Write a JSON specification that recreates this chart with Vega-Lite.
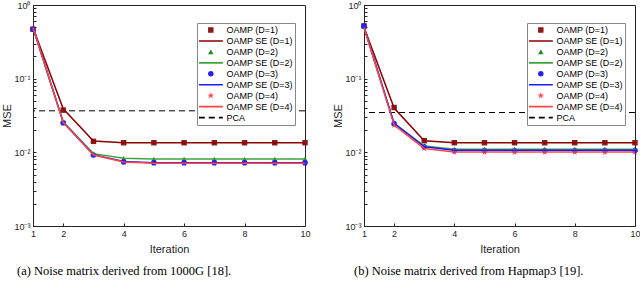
{
  "$schema": "https://vega.github.io/schema/vega-lite/v6.json",
  "padding": {"left": 1, "top": 0, "right": 0, "bottom": 0},
  "spacing": 21,
  "datasets": {
    "a_pca": [{"s": "PCA", "mse": 0.0366}],
    "b_pca": [{"s": "PCA", "mse": 0.0347}],
    "a_pt": [
      {"it": 1, "s": "OAMP (D=1)", "mse": 0.47}, {"it": 2, "s": "OAMP (D=1)", "mse": 0.0374}, {"it": 3, "s": "OAMP (D=1)", "mse": 0.0141}, {"it": 4, "s": "OAMP (D=1)", "mse": 0.0135}, {"it": 5, "s": "OAMP (D=1)", "mse": 0.0135}, {"it": 6, "s": "OAMP (D=1)", "mse": 0.0135}, {"it": 7, "s": "OAMP (D=1)", "mse": 0.0135}, {"it": 8, "s": "OAMP (D=1)", "mse": 0.0135}, {"it": 9, "s": "OAMP (D=1)", "mse": 0.0135}, {"it": 10, "s": "OAMP (D=1)", "mse": 0.0135},
      {"it": 1, "s": "OAMP (D=2)", "mse": 0.47}, {"it": 2, "s": "OAMP (D=2)", "mse": 0.0252}, {"it": 3, "s": "OAMP (D=2)", "mse": 0.0095}, {"it": 4, "s": "OAMP (D=2)", "mse": 0.0083}, {"it": 5, "s": "OAMP (D=2)", "mse": 0.0081}, {"it": 6, "s": "OAMP (D=2)", "mse": 0.0081}, {"it": 7, "s": "OAMP (D=2)", "mse": 0.0081}, {"it": 8, "s": "OAMP (D=2)", "mse": 0.0081}, {"it": 9, "s": "OAMP (D=2)", "mse": 0.0081}, {"it": 10, "s": "OAMP (D=2)", "mse": 0.0081},
      {"it": 1, "s": "OAMP (D=4)", "mse": 0.47}, {"it": 2, "s": "OAMP (D=4)", "mse": 0.0252}, {"it": 3, "s": "OAMP (D=4)", "mse": 0.0092}, {"it": 4, "s": "OAMP (D=4)", "mse": 0.0074}, {"it": 5, "s": "OAMP (D=4)", "mse": 0.0071}, {"it": 6, "s": "OAMP (D=4)", "mse": 0.0071}, {"it": 7, "s": "OAMP (D=4)", "mse": 0.0071}, {"it": 8, "s": "OAMP (D=4)", "mse": 0.0071}, {"it": 9, "s": "OAMP (D=4)", "mse": 0.0071}, {"it": 10, "s": "OAMP (D=4)", "mse": 0.0071},
      {"it": 1, "s": "OAMP (D=3)", "mse": 0.47}, {"it": 2, "s": "OAMP (D=3)", "mse": 0.0252}, {"it": 3, "s": "OAMP (D=3)", "mse": 0.0092}, {"it": 4, "s": "OAMP (D=3)", "mse": 0.0074}, {"it": 5, "s": "OAMP (D=3)", "mse": 0.0072}, {"it": 6, "s": "OAMP (D=3)", "mse": 0.0072}, {"it": 7, "s": "OAMP (D=3)", "mse": 0.0072}, {"it": 8, "s": "OAMP (D=3)", "mse": 0.0072}, {"it": 9, "s": "OAMP (D=3)", "mse": 0.0072}, {"it": 10, "s": "OAMP (D=3)", "mse": 0.0072}
    ],
    "a_se": [
      {"it": 1, "s": "OAMP SE (D=1)", "mse": 0.49}, {"it": 2, "s": "OAMP SE (D=1)", "mse": 0.039}, {"it": 3, "s": "OAMP SE (D=1)", "mse": 0.0142}, {"it": 4, "s": "OAMP SE (D=1)", "mse": 0.0135}, {"it": 5, "s": "OAMP SE (D=1)", "mse": 0.0135}, {"it": 6, "s": "OAMP SE (D=1)", "mse": 0.0135}, {"it": 7, "s": "OAMP SE (D=1)", "mse": 0.0135}, {"it": 8, "s": "OAMP SE (D=1)", "mse": 0.0135}, {"it": 9, "s": "OAMP SE (D=1)", "mse": 0.0135}, {"it": 10, "s": "OAMP SE (D=1)", "mse": 0.0135},
      {"it": 1, "s": "OAMP SE (D=2)", "mse": 0.49}, {"it": 2, "s": "OAMP SE (D=2)", "mse": 0.026}, {"it": 3, "s": "OAMP SE (D=2)", "mse": 0.0096}, {"it": 4, "s": "OAMP SE (D=2)", "mse": 0.0083}, {"it": 5, "s": "OAMP SE (D=2)", "mse": 0.0081}, {"it": 6, "s": "OAMP SE (D=2)", "mse": 0.0081}, {"it": 7, "s": "OAMP SE (D=2)", "mse": 0.0081}, {"it": 8, "s": "OAMP SE (D=2)", "mse": 0.0081}, {"it": 9, "s": "OAMP SE (D=2)", "mse": 0.0081}, {"it": 10, "s": "OAMP SE (D=2)", "mse": 0.0081},
      {"it": 1, "s": "OAMP SE (D=3)", "mse": 0.49}, {"it": 2, "s": "OAMP SE (D=3)", "mse": 0.0255}, {"it": 3, "s": "OAMP SE (D=3)", "mse": 0.0093}, {"it": 4, "s": "OAMP SE (D=3)", "mse": 0.0075}, {"it": 5, "s": "OAMP SE (D=3)", "mse": 0.0072}, {"it": 6, "s": "OAMP SE (D=3)", "mse": 0.0072}, {"it": 7, "s": "OAMP SE (D=3)", "mse": 0.0072}, {"it": 8, "s": "OAMP SE (D=3)", "mse": 0.0072}, {"it": 9, "s": "OAMP SE (D=3)", "mse": 0.0072}, {"it": 10, "s": "OAMP SE (D=3)", "mse": 0.0072},
      {"it": 1, "s": "OAMP SE (D=4)", "mse": 0.49}, {"it": 2, "s": "OAMP SE (D=4)", "mse": 0.0255}, {"it": 3, "s": "OAMP SE (D=4)", "mse": 0.0092}, {"it": 4, "s": "OAMP SE (D=4)", "mse": 0.0074}, {"it": 5, "s": "OAMP SE (D=4)", "mse": 0.0071}, {"it": 6, "s": "OAMP SE (D=4)", "mse": 0.0071}, {"it": 7, "s": "OAMP SE (D=4)", "mse": 0.0071}, {"it": 8, "s": "OAMP SE (D=4)", "mse": 0.0071}, {"it": 9, "s": "OAMP SE (D=4)", "mse": 0.0071}, {"it": 10, "s": "OAMP SE (D=4)", "mse": 0.0071}
    ],
    "b_pt": [
      {"it": 1, "s": "OAMP (D=1)", "mse": 0.52}, {"it": 2, "s": "OAMP (D=1)", "mse": 0.0406}, {"it": 3, "s": "OAMP (D=1)", "mse": 0.0144}, {"it": 4, "s": "OAMP (D=1)", "mse": 0.0135}, {"it": 5, "s": "OAMP (D=1)", "mse": 0.0135}, {"it": 6, "s": "OAMP (D=1)", "mse": 0.0135}, {"it": 7, "s": "OAMP (D=1)", "mse": 0.0135}, {"it": 8, "s": "OAMP (D=1)", "mse": 0.0135}, {"it": 9, "s": "OAMP (D=1)", "mse": 0.0135}, {"it": 10, "s": "OAMP (D=1)", "mse": 0.0135},
      {"it": 1, "s": "OAMP (D=2)", "mse": 0.52}, {"it": 2, "s": "OAMP (D=2)", "mse": 0.0247}, {"it": 3, "s": "OAMP (D=2)", "mse": 0.0122}, {"it": 4, "s": "OAMP (D=2)", "mse": 0.011}, {"it": 5, "s": "OAMP (D=2)", "mse": 0.011}, {"it": 6, "s": "OAMP (D=2)", "mse": 0.011}, {"it": 7, "s": "OAMP (D=2)", "mse": 0.011}, {"it": 8, "s": "OAMP (D=2)", "mse": 0.011}, {"it": 9, "s": "OAMP (D=2)", "mse": 0.011}, {"it": 10, "s": "OAMP (D=2)", "mse": 0.011},
      {"it": 1, "s": "OAMP (D=4)", "mse": 0.52}, {"it": 2, "s": "OAMP (D=4)", "mse": 0.0234}, {"it": 3, "s": "OAMP (D=4)", "mse": 0.0113}, {"it": 4, "s": "OAMP (D=4)", "mse": 0.0101}, {"it": 5, "s": "OAMP (D=4)", "mse": 0.0101}, {"it": 6, "s": "OAMP (D=4)", "mse": 0.0101}, {"it": 7, "s": "OAMP (D=4)", "mse": 0.0101}, {"it": 8, "s": "OAMP (D=4)", "mse": 0.0101}, {"it": 9, "s": "OAMP (D=4)", "mse": 0.0101}, {"it": 10, "s": "OAMP (D=4)", "mse": 0.0101},
      {"it": 1, "s": "OAMP (D=3)", "mse": 0.52}, {"it": 2, "s": "OAMP (D=3)", "mse": 0.0247}, {"it": 3, "s": "OAMP (D=3)", "mse": 0.0119}, {"it": 4, "s": "OAMP (D=3)", "mse": 0.0106}, {"it": 5, "s": "OAMP (D=3)", "mse": 0.0106}, {"it": 6, "s": "OAMP (D=3)", "mse": 0.0106}, {"it": 7, "s": "OAMP (D=3)", "mse": 0.0106}, {"it": 8, "s": "OAMP (D=3)", "mse": 0.0106}, {"it": 9, "s": "OAMP (D=3)", "mse": 0.0106}, {"it": 10, "s": "OAMP (D=3)", "mse": 0.0106}
    ],
    "b_se": [
      {"it": 1, "s": "OAMP SE (D=1)", "mse": 0.5}, {"it": 2, "s": "OAMP SE (D=1)", "mse": 0.04}, {"it": 3, "s": "OAMP SE (D=1)", "mse": 0.0144}, {"it": 4, "s": "OAMP SE (D=1)", "mse": 0.0135}, {"it": 5, "s": "OAMP SE (D=1)", "mse": 0.0135}, {"it": 6, "s": "OAMP SE (D=1)", "mse": 0.0135}, {"it": 7, "s": "OAMP SE (D=1)", "mse": 0.0135}, {"it": 8, "s": "OAMP SE (D=1)", "mse": 0.0135}, {"it": 9, "s": "OAMP SE (D=1)", "mse": 0.0135}, {"it": 10, "s": "OAMP SE (D=1)", "mse": 0.0135},
      {"it": 1, "s": "OAMP SE (D=2)", "mse": 0.5}, {"it": 2, "s": "OAMP SE (D=2)", "mse": 0.0247}, {"it": 3, "s": "OAMP SE (D=2)", "mse": 0.0122}, {"it": 4, "s": "OAMP SE (D=2)", "mse": 0.011}, {"it": 5, "s": "OAMP SE (D=2)", "mse": 0.011}, {"it": 6, "s": "OAMP SE (D=2)", "mse": 0.011}, {"it": 7, "s": "OAMP SE (D=2)", "mse": 0.011}, {"it": 8, "s": "OAMP SE (D=2)", "mse": 0.011}, {"it": 9, "s": "OAMP SE (D=2)", "mse": 0.011}, {"it": 10, "s": "OAMP SE (D=2)", "mse": 0.011},
      {"it": 1, "s": "OAMP SE (D=3)", "mse": 0.5}, {"it": 2, "s": "OAMP SE (D=3)", "mse": 0.0247}, {"it": 3, "s": "OAMP SE (D=3)", "mse": 0.0119}, {"it": 4, "s": "OAMP SE (D=3)", "mse": 0.0107}, {"it": 5, "s": "OAMP SE (D=3)", "mse": 0.0107}, {"it": 6, "s": "OAMP SE (D=3)", "mse": 0.0107}, {"it": 7, "s": "OAMP SE (D=3)", "mse": 0.0107}, {"it": 8, "s": "OAMP SE (D=3)", "mse": 0.0107}, {"it": 9, "s": "OAMP SE (D=3)", "mse": 0.0107}, {"it": 10, "s": "OAMP SE (D=3)", "mse": 0.0107},
      {"it": 1, "s": "OAMP SE (D=4)", "mse": 0.49}, {"it": 2, "s": "OAMP SE (D=4)", "mse": 0.0234}, {"it": 3, "s": "OAMP SE (D=4)", "mse": 0.0113}, {"it": 4, "s": "OAMP SE (D=4)", "mse": 0.0101}, {"it": 5, "s": "OAMP SE (D=4)", "mse": 0.0101}, {"it": 6, "s": "OAMP SE (D=4)", "mse": 0.0101}, {"it": 7, "s": "OAMP SE (D=4)", "mse": 0.0101}, {"it": 8, "s": "OAMP SE (D=4)", "mse": 0.0101}, {"it": 9, "s": "OAMP SE (D=4)", "mse": 0.0101}, {"it": 10, "s": "OAMP SE (D=4)", "mse": 0.0101}
    ]
  },
  "hconcat": [
    {
      "width": 272, "height": 221,
      "title": {"text": "(a) Noise matrix derived from 1000G [18].", "orient": "bottom", "anchor": "start", "frame": "bounds", "dx": 15, "offset": 11},
      "layer": [
        {
          "data": {"name": "a_pca"},
          "mark": {"type": "rule", "strokeDash": [6, 4], "strokeWidth": 1},
          "encoding": {
            "y": {"field": "mse", "type": "quantitative", "scale": {"type": "log", "domain": [0.001, 1], "nice": false}, "title": "MSE",
              "axis": {"values": [0.001, 0.002, 0.003, 0.004, 0.005, 0.006, 0.007, 0.008, 0.009, 0.01, 0.02, 0.03, 0.04, 0.05, 0.06, 0.07, 0.08, 0.09, 0.1, 0.2, 0.3, 0.4, 0.5, 0.6, 0.7, 0.8, 0.9, 1],
                "labelExpr": "datum.value > 0.99 ? '10⁰' : (datum.value > 0.099 && datum.value < 0.101) ? '10⁻¹' : (datum.value > 0.0099 && datum.value < 0.0101) ? '10⁻²' : (datum.value > 0.00099 && datum.value < 0.00101) ? '10⁻³' : ''"}},
            "stroke": {"field": "s", "type": "nominal",
              "scale": {"domain": ["OAMP (D=1)", "OAMP SE (D=1)", "OAMP (D=2)", "OAMP SE (D=2)", "OAMP (D=3)", "OAMP SE (D=3)", "OAMP (D=4)", "OAMP SE (D=4)", "PCA"],
                "range": ["transparent", "#8B0000", "transparent", "#3DA53D", "transparent", "#1A1AFF", "transparent", "#FF4545", "#000000"]},
              "legend": {"title": null, "orient": "none", "legendX": 164, "legendY": 18}}
          }
        },
        {
          "data": {"name": "a_pt"},
          "mark": {"type": "point", "filled": true, "size": 30, "opacity": 1},
          "encoding": {
            "x": {"field": "it", "type": "quantitative", "scale": {"domain": [1, 10], "nice": false}, "title": "Iteration",
              "axis": {"values": [1, 2, 4, 6, 8, 10], "labelOverlap": false, "labelFlush": false}},
            "y": {"field": "mse", "type": "quantitative"},
            "fill": {"field": "s", "type": "nominal",
              "scale": {"domain": ["OAMP (D=1)", "OAMP SE (D=1)", "OAMP (D=2)", "OAMP SE (D=2)", "OAMP (D=3)", "OAMP SE (D=3)", "OAMP (D=4)", "OAMP SE (D=4)", "PCA"],
                "range": ["#8B1A1A", "transparent", "#1E8B1E", "transparent", "#2222FF", "transparent", "#FF4D4D", "transparent", "transparent"]},
              "legend": {"title": null, "orient": "none", "legendX": 164, "legendY": 18}},
            "shape": {"field": "s", "type": "nominal",
              "scale": {"domain": ["OAMP (D=1)", "OAMP SE (D=1)", "OAMP (D=2)", "OAMP SE (D=2)", "OAMP (D=3)", "OAMP SE (D=3)", "OAMP (D=4)", "OAMP SE (D=4)", "PCA"],
                "range": ["square", "M-4.4,0L4.4,0", "triangle-up", "M-4.4,0L4.4,0", "circle", "M-4.4,0L4.4,0", "M0,-1.3L0.29,-0.4L1.24,-0.4L0.47,0.15L0.76,1.05L0,0.5L-0.76,1.05L-0.47,0.15L-1.24,-0.4L-0.29,-0.4Z", "M-4.4,0L4.4,0", "M-4.38,0L-2.19,0M-0.73,0L1.46,0M2.92,0L4.38,0"]},
              "legend": {"title": null, "orient": "none", "legendX": 164, "legendY": 18}}
          }
        },
        {
          "data": {"name": "a_se"},
          "mark": {"type": "line", "strokeWidth": 1.5},
          "encoding": {
            "x": {"field": "it", "type": "quantitative"},
            "y": {"field": "mse", "type": "quantitative"},
            "stroke": {"field": "s", "type": "nominal", "legend": {"title": null, "orient": "none", "legendX": 164, "legendY": 18}}
          }
        }
      ]
    },
    {
      "width": 271, "height": 221,
      "title": {"text": "(b) Noise matrix derived from Hapmap3 [19].", "orient": "bottom", "anchor": "start", "frame": "bounds", "dx": 21, "offset": 11},
      "layer": [
        {
          "data": {"name": "b_pca"},
          "mark": {"type": "rule", "strokeDash": [6, 4], "strokeWidth": 1},
          "encoding": {
            "y": {"field": "mse", "type": "quantitative", "scale": {"type": "log", "domain": [0.001, 1], "nice": false}, "title": "MSE",
              "axis": {"values": [0.001, 0.002, 0.003, 0.004, 0.005, 0.006, 0.007, 0.008, 0.009, 0.01, 0.02, 0.03, 0.04, 0.05, 0.06, 0.07, 0.08, 0.09, 0.1, 0.2, 0.3, 0.4, 0.5, 0.6, 0.7, 0.8, 0.9, 1],
                "labelExpr": "datum.value > 0.99 ? '10⁰' : (datum.value > 0.099 && datum.value < 0.101) ? '10⁻¹' : (datum.value > 0.0099 && datum.value < 0.0101) ? '10⁻²' : (datum.value > 0.00099 && datum.value < 0.00101) ? '10⁻³' : ''"}},
            "stroke": {"field": "s", "type": "nominal",
              "scale": {"domain": ["OAMP (D=1)", "OAMP SE (D=1)", "OAMP (D=2)", "OAMP SE (D=2)", "OAMP (D=3)", "OAMP SE (D=3)", "OAMP (D=4)", "OAMP SE (D=4)", "PCA"],
                "range": ["transparent", "#8B0000", "transparent", "#3DA53D", "transparent", "#1A1AFF", "transparent", "#FF4545", "#000000"]},
              "legend": {"title": null, "orient": "none", "legendX": 163, "legendY": 18}}
          }
        },
        {
          "data": {"name": "b_pt"},
          "mark": {"type": "point", "filled": true, "size": 30, "opacity": 1},
          "encoding": {
            "x": {"field": "it", "type": "quantitative", "scale": {"domain": [1, 10], "nice": false}, "title": "Iteration",
              "axis": {"values": [1, 2, 4, 6, 8, 10], "labelOverlap": false, "labelFlush": false}},
            "y": {"field": "mse", "type": "quantitative"},
            "fill": {"field": "s", "type": "nominal",
              "scale": {"domain": ["OAMP (D=1)", "OAMP SE (D=1)", "OAMP (D=2)", "OAMP SE (D=2)", "OAMP (D=3)", "OAMP SE (D=3)", "OAMP (D=4)", "OAMP SE (D=4)", "PCA"],
                "range": ["#8B1A1A", "transparent", "#1E8B1E", "transparent", "#2222FF", "transparent", "#FF4D4D", "transparent", "transparent"]},
              "legend": {"title": null, "orient": "none", "legendX": 163, "legendY": 18}},
            "shape": {"field": "s", "type": "nominal",
              "scale": {"domain": ["OAMP (D=1)", "OAMP SE (D=1)", "OAMP (D=2)", "OAMP SE (D=2)", "OAMP (D=3)", "OAMP SE (D=3)", "OAMP (D=4)", "OAMP SE (D=4)", "PCA"],
                "range": ["square", "M-4.4,0L4.4,0", "triangle-up", "M-4.4,0L4.4,0", "circle", "M-4.4,0L4.4,0", "M0,-1.3L0.29,-0.4L1.24,-0.4L0.47,0.15L0.76,1.05L0,0.5L-0.76,1.05L-0.47,0.15L-1.24,-0.4L-0.29,-0.4Z", "M-4.4,0L4.4,0", "M-4.38,0L-2.19,0M-0.73,0L1.46,0M2.92,0L4.38,0"]},
              "legend": {"title": null, "orient": "none", "legendX": 163, "legendY": 18}}
          }
        },
        {
          "data": {"name": "b_se"},
          "mark": {"type": "line", "strokeWidth": 1.5},
          "encoding": {
            "x": {"field": "it", "type": "quantitative"},
            "y": {"field": "mse", "type": "quantitative"},
            "stroke": {"field": "s", "type": "nominal", "legend": {"title": null, "orient": "none", "legendX": 163, "legendY": 18}}
          }
        }
      ]
    }
  ],
  "resolve": {"scale": {"fill": "independent", "stroke": "independent", "shape": "independent"}},
  "config": {
    "font": "Liberation Sans",
    "view": {"stroke": "#262626", "strokeWidth": 1},
    "axis": {"labelFont": "Liberation Sans", "titleFont": "Liberation Sans", "labelFontSize": 9, "titleFontSize": 11, "titleFontWeight": "normal",
      "grid": false, "domainColor": "#262626", "tickColor": "#262626", "labelColor": "#262626", "titleColor": "#262626", "tickSize": -3, "labelPadding": 6},
    "axisX": {"titlePadding": 5},
    "axisY": {"titlePadding": 1, "labelBaseline": "middle"},
    "legend": {"labelFont": "Liberation Sans", "labelFontSize": 9, "labelColor": "#000000", "strokeColor": "#888888", "fillColor": "#ffffff",
      "padding": 2, "clipHeight": 10, "rowPadding": 0.95, "symbolSize": 30, "symbolStrokeWidth": 1.6, "symbolOffset": 7.3, "labelOffset": 11.2},
    "title": {"font": "Liberation Serif", "fontSize": 12.5, "fontWeight": "normal", "color": "#000000"}
  }
}
